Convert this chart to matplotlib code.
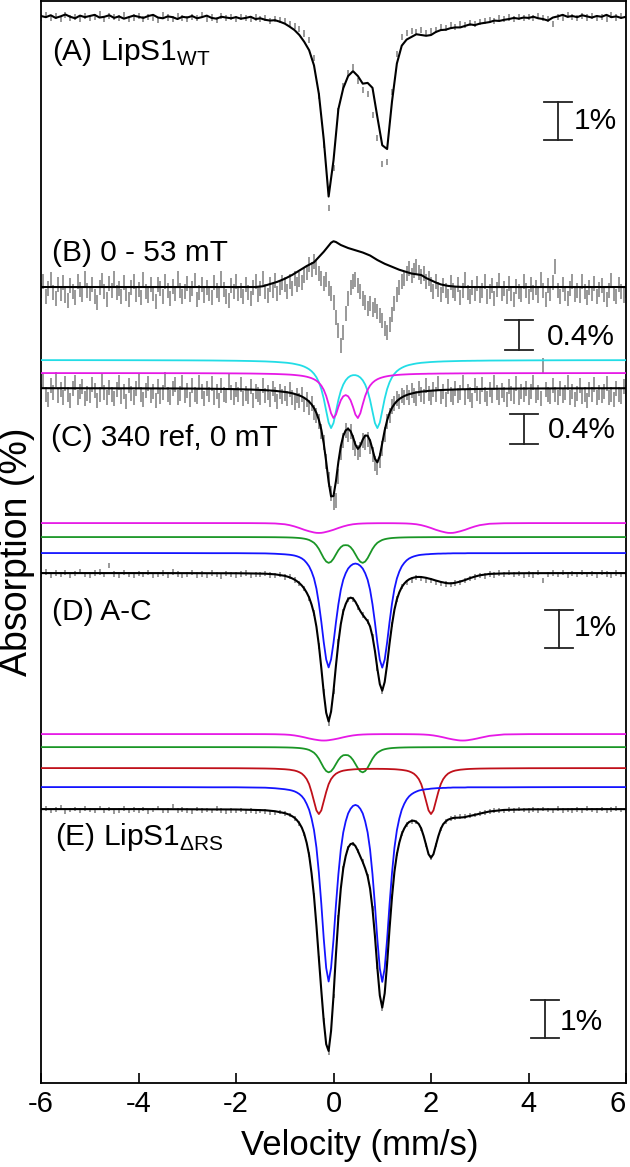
import numpy as np
import matplotlib
matplotlib.use('Agg')
import matplotlib.pyplot as plt

plt.rcParams['font.family'] = ['Liberation Sans', 'DejaVu Sans']
plt.rcParams['mathtext.fontset'] = 'custom'
plt.rcParams['mathtext.rm'] = 'Liberation Sans'
plt.rcParams['axes.unicode_minus'] = False

# channel velocities (mm/s) of the measured spectra
vel = np.round(np.arange(-6.0, 6.001, 0.1), 2)
vel_fine = np.round(np.arange(-6.0, 6.001, 0.05), 2)

# velocity grid of the smooth simulated curves
fit_v = np.concatenate([[-6, -5, -4, -3, -2.5, -2, -1.7, -1.4, -1.2],
                        np.round(np.arange(-1.0, 3.001, 0.05), 2),
                        [3.2, 3.5, 4, 5, 6]])

# ---- (A) LipS1 WT : absorption in % ----
a_line = [0.00, 0.03, -0.02, 0.05, 0.01, -0.04, 0.02, 0.06, -0.01, 0.03,
          0.00, -0.03, 0.04, 0.02, -0.02, 0.05, 0.01, 0.07, 0.03, -0.01,
          0.02, 0.05, 0.00, -0.03, 0.04, 0.06, 0.01, 0.03, 0.08, 0.02,
          0.04, 0.00, 0.06, 0.03, -0.01, 0.05, 0.07, 0.02, 0.04, 0.06,
          0.03, 0.07, 0.05, 0.02, 0.08, 0.06, 0.10, 0.12, 0.11, 0.15,
          0.20, 0.28, 0.37, 0.50, 0.68, 0.90, 1.30, 2.05, 3.25, 4.75,
          3.80, 2.45, 1.90, 1.58, 1.45, 1.58, 1.78, 1.76, 1.89, 2.66,
          3.40, 3.50, 2.25, 1.25, 0.78, 0.62, 0.55, 0.48, 0.50, 0.52,
          0.50, 0.42, 0.37, 0.36, 0.32, 0.30, 0.30, 0.26, 0.22, 0.24,
          0.20, 0.18, 0.16, 0.12, 0.13, 0.10, 0.08, 0.05, 0.07, 0.04,
          0.05, 0.02, 0.06, 0.08, 0.12, 0.04, 0.01, -0.03, 0.02, 0.00,
          0.03, -0.02, 0.01, 0.04, 0.00, 0.02, -0.03, 0.03, 0.01, 0.05,
          0.02]
a_data = [0.04, -0.02, 0.06, 0.00, 0.08, -0.03, 0.05, 0.02, 0.07, -0.01,
          0.05, 0.03, -0.04, 0.09, 0.01, 0.02, 0.06, -0.02, 0.08, 0.04,
          -0.01, 0.07, 0.03, 0.05, 0.10, -0.02, 0.04, 0.08, 0.00, 0.06,
          0.09, 0.02, 0.05, -0.03, 0.07, 0.04, 0.10, 0.01, 0.06, 0.03,
          0.08, 0.02, 0.06, 0.09, 0.04, 0.07, 0.05, 0.12, 0.08, 0.10,
          0.14, 0.20, 0.26, 0.35, 0.46, 0.62, 1.10, 2.10, 3.40, 5.05,
          4.00, 2.50, 1.85, 1.50, 1.35, 1.70, 1.95, 2.05, 2.60, 3.20,
          3.90, 3.85, 2.00, 1.00, 0.55, 0.45, 0.40, 0.42, 0.38, 0.44,
          0.40, 0.36, 0.30, 0.32, 0.25, 0.28, 0.22, 0.24, 0.18, 0.20,
          0.16, 0.14, 0.10, 0.12, 0.06, 0.09, 0.04, 0.07, 0.02, 0.05,
          0.03, 0.06, 0.00, 0.05, 0.09, 0.20, 0.02, 0.04, -0.02, 0.03,
          0.06, 0.00, 0.04, -0.01, 0.05, 0.02, 0.07, -0.02, 0.04, 0.01,
          0.03]

# ---- (B) 0 - 53 mT difference ----
b_data = [0.05, -0.08, 0.12, 0.02, -0.10, 0.07, 0.15, -0.03, 0.09, -0.06,
          0.11, 0.18, -0.02, 0.06, 0.14, -0.07, 0.03, 0.10, -0.12, 0.05,
          0.08, -0.04, 0.13, 0.20, 0.01, -0.09, 0.06, 0.16, -0.05, 0.04,
          -0.11, 0.07, 0.02, 0.12, -0.06, 0.09, 0.17, 0.00, -0.08, 0.10,
          0.03, 0.14, -0.10, 0.06, 0.11, -0.03, 0.08, 0.19, -0.04, 0.02,
          0.12, -0.07, 0.05, 0.15, -0.01, 0.09, -0.12, 0.04, 0.13, 0.06,
          -0.05, 0.10, 0.02, -0.09, 0.16, 0.07, -0.03, 0.11, 0.00, 0.08,
          0.14, -0.06, 0.05, 0.10, -0.11, 0.03, 0.12, 0.18, -0.02, 0.06,
          -0.08, 0.09, 0.04, 0.13, -0.04, 0.07, 0.15, 0.01, -0.07, 0.10,
          0.02, -0.12, 0.06, 0.11, -0.03, 0.05, -0.09, 0.08, 0.00, -0.06,
          -0.04, 0.06, -0.08, 0.02, -0.12, -0.03, -0.10, -0.06, -0.15, -0.20,
          -0.30, -0.24, -0.34, -0.26, -0.18, -0.12, -0.05, -0.10, 0.02, 0.08,
          0.20, 0.40, 0.58, 0.78, 0.60, 0.35, 0.15, 0.00, -0.08, -0.10,
          -0.02, 0.06, 0.15, 0.20, 0.28, 0.22, 0.30, 0.25, 0.33, 0.38,
          0.45, 0.55, 0.60, 0.50, 0.36, 0.22, 0.10, 0.00, -0.08, -0.12,
          -0.18, -0.25, -0.15, -0.22, -0.28, -0.20, -0.14, -0.18, -0.08, -0.12,
          -0.04, 0.06, -0.08, 0.03, 0.10, -0.02, 0.05, 0.12, -0.06, 0.04,
          0.09, -0.03, 0.14, 0.05, -0.10, 0.07, 0.12, 0.00, 0.08, -0.05,
          0.11, 0.04, -0.07, 0.13, 0.06, -0.02, 0.15, 0.03, -0.09, 0.08,
          0.02, 0.12, -0.05, 0.09, 0.17, -0.01, 0.06, 0.10, -0.08, 0.05,
          0.13, -0.04, 0.07, 0.01, 0.11, -0.10, 0.04, 0.16, -0.02, 0.08,
          -0.06, -0.28, 0.05, 0.12, -0.03, 0.09, 0.15, 0.02, -0.07, 0.10,
          0.04, 0.11, -0.08, 0.06, 0.14, 0.00, 0.09, -0.05, 0.12, 0.03,
          -0.02, 0.10, 0.16, 0.05, -0.09, 0.08, 0.13, -0.04, 0.06, 0.11,
          0.04]
b_fit_v = [-6, -1.6, -1.45, -1.3, -1.15, -1.0, -0.85, -0.7, -0.55, -0.4,
           -0.3, -0.2, -0.1, -0.05, 0.0, 0.05, 0.15, 0.3, 0.45, 0.6, 0.75,
           0.9, 1.05, 1.2, 1.35, 1.5, 1.6, 1.7, 1.8, 1.9, 2.0, 2.1, 2.2,
           2.35, 2.5, 2.65, 6]
b_fit = [0, 0, -0.01, -0.04, -0.07, -0.11, -0.16, -0.22, -0.28, -0.33,
         -0.40, -0.47, -0.55, -0.59, -0.61, -0.60, -0.56, -0.52, -0.49, -0.46,
         -0.42, -0.36, -0.31, -0.27, -0.23, -0.20, -0.18, -0.17, -0.16, -0.12,
         -0.09, -0.06, -0.035, -0.015, -0.005, 0, 0]

# ---- (C) 340 reference, 0 mT ----
c_data = [0.04, -0.10, 0.08, 0.15, -0.03, 0.06, -0.12, 0.10, 0.02, 0.13,
          -0.06, 0.09, 0.17, 0.01, -0.08, 0.12, 0.05, -0.02, 0.14, 0.07,
          0.10, -0.05, 0.03, 0.16, 0.08, -0.10, 0.06, 0.12, -0.01, 0.09,
          0.14, 0.02, -0.07, 0.11, 0.05, 0.18, -0.04, 0.07, 0.13, 0.00,
          -0.09, 0.08, 0.15, 0.03, -0.06, 0.10, 0.04, 0.16, -0.02, 0.11,
          0.06, -0.11, 0.09, 0.13, 0.01, -0.05, 0.12, 0.07, -0.08, 0.10,
          0.03, 0.15, -0.04, 0.08, 0.11, -0.07, 0.05, 0.14, 0.00, 0.09,
          -0.06, 0.12, 0.04, 0.17, -0.03, 0.08, 0.10, -0.09, 0.06, 0.13,
          0.02, 0.09, -0.05, 0.14, 0.07, 0.11, -0.02, 0.16, 0.05, 0.08,
          0.12, -0.04, 0.10, 0.06, 0.15, 0.01, 0.09, 0.18, 0.04, 0.11,
          0.07, 0.14, 0.02, 0.12, 0.19, 0.10, 0.16, 0.08, 0.22, 0.15,
          0.26, 0.20, 0.32, 0.36, 0.44, 0.58, 0.72, 0.98, 1.22, 1.40,
          1.52, 1.50, 1.18, 0.86, 0.70, 0.56, 0.62, 0.58, 0.72, 0.80,
          0.86, 0.82, 0.70, 0.72, 0.68, 0.78, 0.88, 1.00, 1.06, 0.96,
          0.80, 0.62, 0.44, 0.36, 0.25, 0.20, 0.14, 0.18, 0.10, 0.13,
          0.06, 0.12, 0.03, 0.10, 0.14, 0.00, 0.08, 0.11, -0.04, 0.07,
          0.13, 0.02, 0.09, -0.06, 0.11, 0.05, 0.15, -0.02, 0.08, 0.12,
          0.00, 0.10, 0.06, -0.08, 0.13, 0.04, 0.09, 0.16, -0.03, 0.07,
          0.11, -0.05, 0.08, 0.14, 0.02, 0.10, -0.07, 0.06, 0.12, 0.03,
          0.09, 0.15, -0.02, 0.07, 0.11, -0.06, 0.13, 0.04, 0.08, 0.00,
          0.12, 0.05, -0.08, 0.10, 0.06, 0.14, -0.30, 0.02, 0.09, 0.11,
          -0.04, 0.08, 0.13, 0.01, 0.10, 0.06, -0.07, 0.12, 0.04, 0.15,
          0.07, -0.03, 0.11, 0.09, 0.16, 0.02, 0.08, -0.05, 0.13, 0.06,
          0.10, 0.04, -0.06, 0.12, 0.08, 0.15, 0.01, 0.09, 0.11, -0.02,
          0.06]
cyan_shape = [0.0014, 0.002, 0.003, 0.005, 0.007, 0.011, 0.015, 0.021, 0.028,
              0.039, 0.042, 0.047, 0.052, 0.059, 0.067, 0.075, 0.086, 0.100, 0.118,
              0.140, 0.169, 0.208, 0.261, 0.336, 0.440, 0.585, 0.769, 0.948, 1.031,
              0.954, 0.781, 0.605, 0.468, 0.372, 0.307, 0.265, 0.240, 0.229, 0.229,
              0.240, 0.265, 0.307, 0.372, 0.468, 0.605, 0.781, 0.954, 1.031, 0.948,
              0.769, 0.585, 0.440, 0.336, 0.261, 0.208, 0.169, 0.140, 0.118, 0.100,
              0.086, 0.075, 0.067, 0.059, 0.052, 0.047, 0.042, 0.039, 0.036, 0.033,
              0.030, 0.028, 0.026, 0.024, 0.023, 0.021, 0.020, 0.019, 0.018, 0.017,
              0.016, 0.015, 0.014, 0.013, 0.013, 0.012, 0.012, 0.011, 0.011, 0.010,
              0.010,
              0.008, 0.007, 0.005, 0.003, 0.002]
magc_shape = [0.001, 0.002, 0.0025, 0.004, 0.006, 0.009, 0.012, 0.018, 0.023,
              0.032, 0.035, 0.038, 0.042, 0.047, 0.053, 0.059, 0.067, 0.077, 0.089,
              0.105, 0.124, 0.150, 0.185, 0.234, 0.303, 0.404, 0.551, 0.751, 0.969,
              1.083, 1.000, 0.815, 0.655, 0.560, 0.530, 0.560, 0.655, 0.815, 1.000,
              1.083, 0.969, 0.751, 0.551, 0.404, 0.303, 0.234, 0.185, 0.150, 0.124,
              0.105, 0.089, 0.077, 0.067, 0.059, 0.053, 0.047, 0.042, 0.038, 0.035,
              0.032, 0.029, 0.027, 0.025, 0.023, 0.022, 0.020, 0.019, 0.018, 0.016,
              0.016, 0.015, 0.014, 0.013, 0.012, 0.012, 0.011, 0.011, 0.010, 0.010,
              0.009, 0.009, 0.008, 0.008, 0.008, 0.007, 0.007, 0.007, 0.007, 0.006,
              0.006,
              0.005, 0.004, 0.003, 0.002, 0.001]
cyan_depth = 0.88
magc_depth = 0.554

# ---- shared component shapes for (D) and (E) ----
blue_shape = [0, 0, 0, 0.0005, 0.001, 0.001, 0.002, 0.003, 0.006,
              0.011, 0.013, 0.015, 0.018, 0.022, 0.028, 0.036, 0.047, 0.063, 0.087,
              0.117, 0.162, 0.222, 0.312, 0.442, 0.602, 0.782, 0.933, 1.003, 0.933,
              0.787, 0.609, 0.450, 0.322, 0.234, 0.177, 0.136, 0.112, 0.097, 0.092,
              0.097, 0.112, 0.136, 0.177, 0.234, 0.322, 0.450, 0.609, 0.787, 0.936,
              1.005, 0.935, 0.784, 0.604, 0.443, 0.313, 0.223, 0.162, 0.117, 0.087,
              0.064, 0.048, 0.037, 0.029, 0.023, 0.018, 0.015, 0.013, 0.011, 0.010,
              0.008, 0.007, 0.006, 0.005, 0.005, 0.004, 0.004, 0.003, 0.003, 0.002,
              0.002, 0.002, 0.002, 0.002, 0.002, 0.001, 0.001, 0.001, 0.001, 0.001,
              0.001,
              0.001, 0.001, 0.0005, 0, 0]
green_shape = [0, 0, 0, 0, 0.0005, 0.001, 0.002, 0.004, 0.006,
               0.012, 0.014, 0.017, 0.020, 0.025, 0.031, 0.038, 0.049, 0.064, 0.085,
               0.115, 0.166, 0.227, 0.329, 0.470, 0.652, 0.835, 0.968, 1.022, 0.978,
               0.855, 0.685, 0.520, 0.400, 0.330, 0.320, 0.330, 0.400, 0.520, 0.685,
               0.855, 0.978, 1.022, 0.968, 0.835, 0.652, 0.470, 0.329, 0.227, 0.166,
               0.115, 0.085, 0.064, 0.049, 0.038, 0.031, 0.025, 0.020, 0.017, 0.014,
               0.012, 0.010, 0.009, 0.008, 0.007, 0.006, 0.006, 0.005, 0.005, 0.004,
               0.004, 0.003, 0.003, 0.003, 0.003, 0.002, 0.002, 0.002, 0.002, 0.002,
               0.002, 0.002, 0.001, 0.001, 0.001, 0.001, 0.001, 0.001, 0.001, 0.001,
               0.001,
               0.001, 0.0005, 0, 0, 0]
red_shape = [0, 0, 0, 0.001, 0.002, 0.003, 0.0055, 0.009, 0.014,
             0.025, 0.030, 0.035, 0.044, 0.053, 0.068, 0.090, 0.120, 0.170, 0.240,
             0.350, 0.520, 0.720, 0.920, 1.000, 0.920, 0.720, 0.520, 0.350, 0.240,
             0.172, 0.123, 0.093, 0.071, 0.056, 0.047, 0.039, 0.034, 0.029, 0.025,
             0.023, 0.021, 0.019, 0.018, 0.017, 0.017, 0.016, 0.016, 0.016, 0.017,
             0.017, 0.018, 0.019, 0.021, 0.023, 0.025, 0.029, 0.034, 0.039, 0.047,
             0.056, 0.071, 0.093, 0.123, 0.172, 0.240, 0.350, 0.520, 0.720, 0.920,
             1.000, 0.920, 0.720, 0.520, 0.350, 0.240, 0.170, 0.120, 0.090, 0.068,
             0.053, 0.044, 0.035, 0.030, 0.025, 0.021, 0.018, 0.016, 0.014, 0.0125,
             0.011,
             0.008, 0.0055, 0.0025, 0.001, 0.0005]
magd_shape = [0, 0, 0, 0, 0, 0.002, 0.005, 0.017, 0.040,
              0.120, 0.165, 0.210, 0.275, 0.340, 0.420, 0.500, 0.590, 0.680, 0.755,
              0.830, 0.890, 0.950, 0.990, 1.000, 0.990, 0.950, 0.890, 0.830, 0.755,
              0.680, 0.590, 0.500, 0.420, 0.340, 0.275, 0.210, 0.165, 0.120, 0.095,
              0.070, 0.055, 0.042, 0.034, 0.027, 0.024, 0.020, 0.017, 0.014, 0.013,
              0.012, 0.012, 0.012, 0.013, 0.014, 0.016, 0.020, 0.024, 0.028, 0.034,
              0.042, 0.056, 0.071, 0.096, 0.120, 0.165, 0.210, 0.275, 0.340, 0.420,
              0.500, 0.590, 0.680, 0.755, 0.830, 0.890, 0.950, 0.990, 1.000, 0.990,
              0.950, 0.890, 0.830, 0.755, 0.680, 0.590, 0.500, 0.420, 0.340, 0.275,
              0.210,
              0.070, 0.017, 0.003, 0, 0]
mage_shape = [0, 0, 0, 0, 0, 0.002, 0.004, 0.010, 0.025,
              0.070, 0.095, 0.120, 0.165, 0.210, 0.275, 0.340, 0.420, 0.500, 0.590,
              0.680, 0.755, 0.830, 0.890, 0.950, 0.990, 1.000, 0.990, 0.950, 0.890,
              0.830, 0.755, 0.680, 0.590, 0.500, 0.420, 0.340, 0.275, 0.210, 0.165,
              0.120, 0.095, 0.070, 0.055, 0.040, 0.032, 0.025, 0.021, 0.017, 0.013,
              0.010, 0.0085, 0.007, 0.010, 0.010, 0.010, 0.010, 0.011, 0.012, 0.013,
              0.016, 0.019, 0.023, 0.027, 0.034, 0.042, 0.056, 0.070, 0.095, 0.120,
              0.165, 0.210, 0.275, 0.340, 0.420, 0.500, 0.590, 0.680, 0.755, 0.830,
              0.890, 0.950, 0.990, 1.000, 0.990, 0.950, 0.890, 0.830, 0.755, 0.680,
              0.590,
              0.275, 0.055, 0.006, 0, 0]

# ---- (D) A - C ----
d_data = [0.02, -0.03, 0.05, 0.00, 0.04, -0.02, 0.06, 0.01, -0.04, 0.03,
          0.05, 0.00, -0.03, 0.04, -0.20, 0.02, 0.06, -0.01, 0.03, 0.05,
          0.01, 0.04, -0.02, 0.06, 0.03, 0.00, 0.05, -0.03, 0.02, 0.07,
          0.03, -0.01, 0.05, 0.02, 0.06, 0.00, 0.04, 0.08, 0.01, 0.03,
          0.05, 0.02, 0.00, 0.06, 0.03, 0.04, 0.01, 0.05, 0.07, 0.04,
          0.10, 0.09, 0.18, 0.28, 0.40, 0.66, 1.05, 1.92, 3.12, 3.95,
          3.12, 1.80, 1.02, 0.70, 0.70, 0.90, 1.10, 1.28, 1.68, 2.50,
          3.10, 2.40, 1.35, 0.68, 0.36, 0.24, 0.18, 0.12, 0.14, 0.18,
          0.20, 0.24, 0.27, 0.29, 0.30, 0.26, 0.24, 0.20, 0.15, 0.10,
          0.06, 0.08, 0.02, 0.05, 0.00, 0.03, -0.02, 0.04, 0.01, 0.06,
          0.02, 0.05, -0.01, 0.20, 0.03, 0.00, 0.04, -0.02, 0.05, 0.01,
          0.03, -0.02, 0.04, 0.01, 0.06, -0.01, 0.02, 0.05, 0.00, 0.03,
          0.02]
d_blue_depth, d_green_depth, d_mag_depth = 3.0, 0.665, 0.26

# ---- (E) LipS1 dRS ----
e_data = [0.03, -0.02, 0.05, 0.01, -0.04, 0.06, 0.02, 0.00, 0.04, -0.01,
          0.02, 0.05, -0.03, 0.04, 0.00, 0.06, 0.03, -0.02, 0.05, 0.01,
          0.04, 0.00, 0.07, 0.02, -0.03, 0.05, 0.03, -0.08, 0.04, 0.01,
          0.03, 0.06, 0.00, 0.04, 0.02, 0.05, -0.02, 0.03, 0.07, 0.04,
          0.05, 0.02, 0.06, 0.04, 0.08, 0.05, 0.07, 0.09, 0.10, 0.08,
          0.12, 0.15, 0.24, 0.38, 0.66, 1.20, 2.28, 3.92, 5.55, 6.40,
          4.92, 2.85, 1.56, 1.02, 0.92, 1.10, 1.38, 1.76, 2.62, 4.15,
          5.25, 4.05, 2.30, 1.18, 0.64, 0.40, 0.32, 0.34, 0.52, 0.95,
          1.28, 0.95, 0.52, 0.33, 0.25, 0.22, 0.20, 0.19, 0.17, 0.15,
          0.12, 0.09, 0.07, 0.04, 0.03, 0.05, 0.01, 0.03, 0.00, 0.02,
          0.03, 0.01, 0.04, 0.00, 0.02, 0.05, -0.01, 0.03, 0.02, 0.04,
          0.01, 0.03, -0.02, 0.02, 0.04, 0.00, 0.03, 0.01, -0.01, 0.02,
          0.03]
e_blue_depth, e_green_depth, e_red_depth, e_mag_depth = 5.1, 0.65, 1.21, 0.17

# ---------------- drawing ----------------
fig = plt.figure(figsize=(6.3, 11.67), dpi=100)
ax = fig.add_axes([41 / 630, 1 - 1083 / 1167, 585 / 630, 1082 / 1167])
ax.set_xlim(-6, 6)
ax.set_ylim(-28.47, 0)

small = 1.974          # B and C are drawn at about twice the gain
gray = '#7d7d7d'
cols = {'cyan': '#22dde6', 'mag': '#e619e6', 'green': '#1a9626',
        'blue': '#1414ff', 'red': '#c0101a'}


def bars(v, vals, base, err, gain=1.0):
    y = base - np.asarray(vals) * gain
    ax.errorbar(v, y, yerr=err * gain, fmt='none', ecolor=gray,
                elinewidth=1.1, capsize=0, zorder=1)


def curve(v, vals, base, color, gain=1.0, lw=1.3, z=3):
    ax.plot(v, base - np.asarray(vals) * gain, color=color, lw=lw, zorder=z)


# A
bars(vel, a_data, -0.395, 0.08)
curve(vel, a_line, -0.395, 'black', lw=1.5)

# B
bars(vel_fine, b_data, -7.526, 0.10, small)
curve(b_fit_v, b_fit, -7.526, 'black', small, lw=1.5)

# C
cyan = cyan_depth * np.array(cyan_shape)
magc = magc_depth * np.array(magc_shape)
bars(vel_fine, c_data, -10.184, 0.10, small)
curve(fit_v, cyan, -9.447, cols['cyan'], small)
curve(fit_v, magc, -9.789, cols['mag'], small)
curve(fit_v, cyan + magc, -10.184, 'black', small, lw=1.5)

# D
d_blue = d_blue_depth * np.array(blue_shape)
d_green = d_green_depth * np.array(green_shape)
d_mag = d_mag_depth * np.array(magd_shape)
curve(fit_v, d_mag, -13.737, cols['mag'])
curve(fit_v, d_green, -14.105, cols['green'])
curve(fit_v, d_blue, -14.526, cols['blue'])
bars(vel, d_data, -15.053, 0.07)
curve(fit_v, d_blue + d_green + d_mag, -15.053, 'black', lw=1.5)

# E
e_blue = e_blue_depth * np.array(blue_shape)
e_green = e_green_depth * np.array(green_shape)
e_red = e_red_depth * np.array(red_shape)
e_mag = e_mag_depth * np.array(mage_shape)
curve(fit_v, e_mag, -19.289, cols['mag'])
curve(fit_v, e_green, -19.632, cols['green'])
curve(fit_v, e_red, -20.184, cols['red'])
curve(fit_v, e_blue, -20.684, cols['blue'])
bars(vel, e_data, -21.263, 0.06)
curve(fit_v, e_blue + e_green + e_red + e_mag, -21.263, 'black', lw=1.5)


def scale_bar(v, top, length, label, tv, tu):
    hw = 0.29
    ax.plot([v, v], [top, top - length], color='#222222', lw=1.3)
    ax.plot([v - hw, v + hw], [top, top], color='#222222', lw=1.3)
    ax.plot([v - hw, v + hw], [top - length, top - length], color='#222222', lw=1.3)
    ax.text(tv, tu, label, fontsize=21.5, ha='left', va='center')


scale_bar(4.605, -2.658, 1.0, '1%', 4.92, -3.158)
scale_bar(3.80, -8.395, 0.4 * small, '0.4%', 4.38, -8.84)
scale_bar(3.91, -10.87, 0.4 * small, '0.4%', 4.40, -11.29)
scale_bar(4.625, -16.03, 1.0, '1%', 4.92, -16.50)
scale_bar(4.34, -26.29, 1.0, '1%', 4.65, -26.87)

lab = dict(fontsize=21.5, ha='left', va='baseline')
ax.text(-5.77, -1.55, r'(A) LipS1$_{\mathregular{WT}}$', **lab)
ax.text(-5.77, -6.85, '(B) 0 - 53 mT', **lab)
ax.text(-5.8, -11.72, '(C) 340 ref, 0 mT', **lab)
ax.text(-5.77, -16.30, '(D) A-C', **lab)
ax.text(-5.72, -22.20, r'(E) LipS1$_{\mathregular{ΔRS}}$', **lab)

ticks = [-6, -4, -2, 0, 2, 4, 6]
ax.set_xticks(ticks)
ax.set_xticklabels([str(t) for t in ticks])
ax.get_xticklabels()[-1].set_horizontalalignment('right')
ax.set_yticks([])
ax.tick_params(axis='x', direction='in', length=7, width=1.2, labelsize=21, pad=5)
for s in ax.spines.values():
    s.set_linewidth(1.3)

fig.text(360 / 630, 1 - 1145 / 1167, 'Velocity (mm/s)', fontsize=25,
         ha='center', va='center')
fig.text(17 / 630, 1 - 552 / 1167, 'Absorption (%)', fontsize=27,
         rotation=90, ha='center', va='center')

fig.savefig('out.png', dpi=100)
